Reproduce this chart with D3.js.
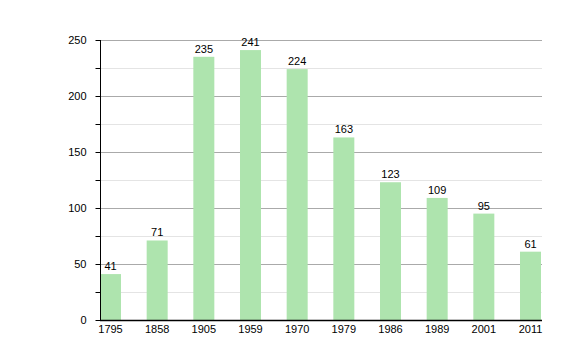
<!DOCTYPE html>
<html><head><meta charset="utf-8">
<script src="https://cdn.jsdelivr.net/npm/d3@7"></script>
<style>body{margin:0;background:#fff}svg{display:block}text{font-family:"Liberation Sans",Arial,sans-serif}</style>
</head><body>
<svg id="c" width="580" height="360"></svg>
<script>
const years = ["1795","1858","1905","1959","1970","1979","1986","1989","2001","2011"];
const values = [41,71,235,241,224,163,123,109,95,61];
const majorTicks = [0,50,100,150,200,250];
const minorTicks = [25,75,125,175,225];

const svg = d3.select("#c");
const L = 100, R = 541, T = 40, B = 320;
const x = d3.scaleBand().domain(years).range([L, R]).paddingInner(0.55).paddingOuter(0);
const y = d3.scaleLinear().domain([0, 250]).range([B, T]);

// minor gridlines
svg.append("g").selectAll("line").data(minorTicks).join("line")
  .attr("x1", L).attr("x2", 542).attr("y1", d => y(d)+0.5).attr("y2", d => y(d)+0.5)
  .attr("stroke", "#e4e4e4").attr("stroke-width", 1);
// major gridlines
svg.append("g").selectAll("line").data(majorTicks.filter(d=>d>0)).join("line")
  .attr("x1", L).attr("x2", 542).attr("y1", d => y(d)+0.5).attr("y2", d => y(d)+0.5)
  .attr("stroke", "#aaaaaa").attr("stroke-width", 1);

// bars
svg.append("g").selectAll("rect").data(values).join("rect")
  .attr("x", (d,i) => x(years[i])).attr("width", x.bandwidth())
  .attr("y", d => y(d)).attr("height", d => B - y(d))
  .attr("fill", "#aee4ae");

// value labels
svg.append("g").selectAll("text").data(values).join("text")
  .attr("x", (d,i) => x(years[i]) + x.bandwidth()/2)
  .attr("y", d => y(d) - 4)
  .attr("text-anchor", "middle").attr("font-size", 11).attr("fill", "#000")
  .text(d => d);

// y axis
const yAxis = d3.axisLeft(y).tickValues(majorTicks).tickSize(5).tickPadding(9).tickFormat(d3.format("d"));
const gy = svg.append("g").attr("transform", `translate(${L+0.5},0)`).call(yAxis);
gy.select(".domain").attr("stroke", "#000").attr("d", `M0,${T}V${B}`);
gy.selectAll("text").attr("font-size", 11).attr("fill", "#000").style("font-family", '"Liberation Sans",Arial,sans-serif');
gy.selectAll(".tick line").attr("stroke", "#000");
svg.append("g").selectAll("line").data(minorTicks).join("line")
  .attr("x1", L-4.5).attr("x2", L).attr("y1", d => y(d)+0.5).attr("y2", d => y(d)+0.5)
  .attr("stroke", "#000");

// x axis
const xAxis = d3.axisBottom(x).tickSize(0).tickPadding(5);
const gx = svg.append("g").attr("transform", `translate(0,${B})`).call(xAxis);
gx.select(".domain").attr("stroke", "#000").attr("stroke-width", 1.5).attr("d", `M${L},0.5H542`);
gx.selectAll("text").attr("font-size", 11).attr("fill", "#000").style("font-family", '"Liberation Sans",Arial,sans-serif');
</script>
</body></html>
